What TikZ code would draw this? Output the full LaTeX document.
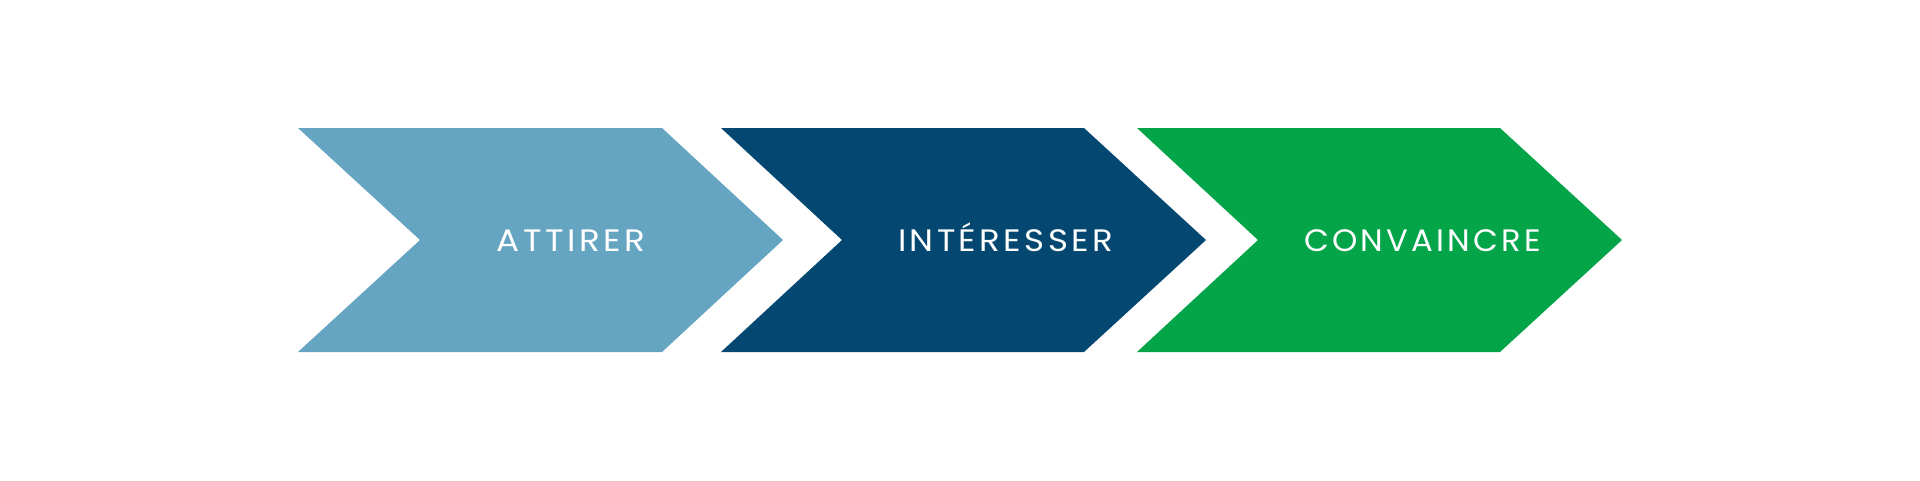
\documentclass[tikz,border=0pt]{standalone}
\usepackage{fontspec}
\setmainfont{Poppins}[LetterSpace=10]
\definecolor{cLight}{HTML}{66A5C1}
\definecolor{cDark}{HTML}{044872}
\definecolor{cGreen}{HTML}{03A548}
\tikzset{
  lbl/.style={text=white, font=\fontsize{31}{31}\selectfont, inner sep=0pt, anchor=base}
}
\begin{document}
\begin{tikzpicture}[x=1pt,y=-1pt]
\useasboundingbox (0,0) rectangle (1920,480);
\fill[white] (0,0) rectangle (1920,480);
\fill[cLight] (298,128) -- (662,128) -- (783,240) -- (662,352) -- (298,352) -- (420,240) -- cycle;
\fill[cDark] (721,128) -- (1084,128) -- (1206,240) -- (1084,352) -- (721,352) -- (842,240) -- cycle;
\fill[cGreen] (1137,128) -- (1500,128) -- (1622,240) -- (1500,352) -- (1137,352) -- (1258,240) -- cycle;
\node[lbl] (t1) at (571,251) {\resizebox{148pt}{\height}{ATTIRER}};
\node[lbl] (t2) at (1005.5,251) {\resizebox{215pt}{\height}{INTÉRESSER}};
\node[lbl] (t3) at (1422.5,251) {\resizebox{237pt}{\height}{CONVAINCRE}};
\end{tikzpicture}
\end{document}
